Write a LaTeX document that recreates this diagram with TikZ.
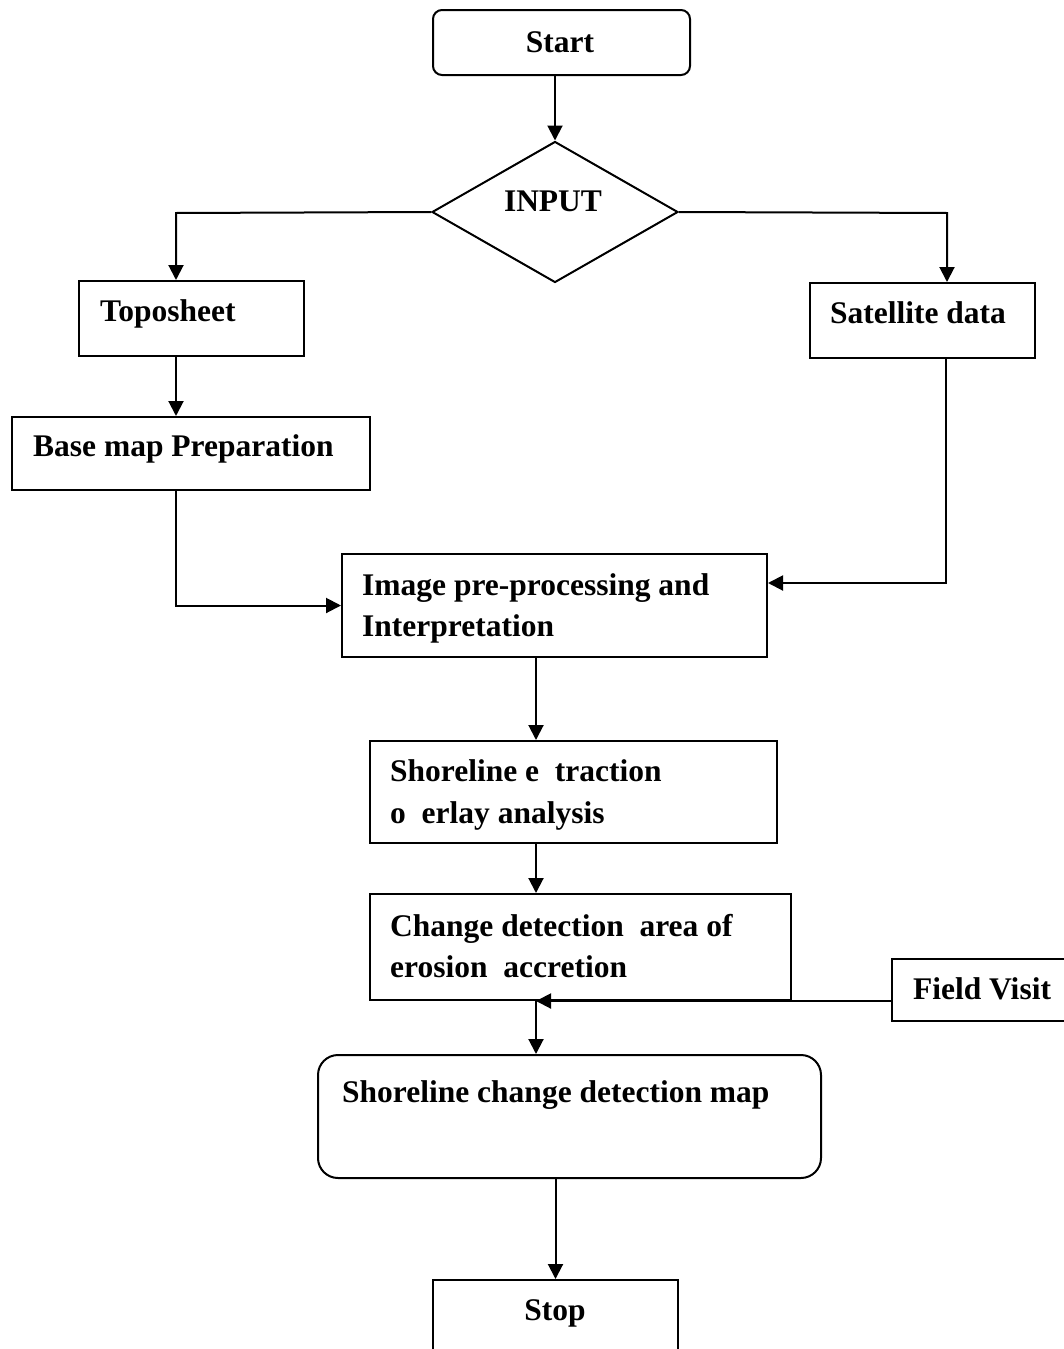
\documentclass[tikz,border=0pt]{standalone}
\usepackage{fontspec}
\setmainfont{Liberation Serif}
\usetikzlibrary{arrows.meta,shapes.geometric}
\begin{document}
\begin{tikzpicture}[x=1pt,y=-1pt,
  box/.style={draw,line width=2pt,inner sep=0pt,anchor=north west},
  txt/.style={font=\fontsize{31.5}{41}\selectfont\bfseries,inner sep=0pt,anchor=base west},
  ctxt/.style={font=\fontsize{31.5}{41}\selectfont\bfseries,inner sep=0pt,anchor=base},
  arr/.style={line width=2pt,-{Triangle[length=15pt,width=15pt]}}]
\useasboundingbox (0,0) rectangle (1064,1349);

% boxes
\node[box,minimum width=257pt,minimum height=65pt,rounded corners=9pt] (start) at (432,9) {};
\node[draw,line width=2pt,diamond,inner sep=0pt,minimum width=246pt,minimum height=141pt] (input) at (555,212) {};
\node[box,minimum width=225pt,minimum height=75pt] (topo) at (78,280) {};
\node[box,minimum width=358pt,minimum height=73pt] (base) at (11,416) {};
\node[box,minimum width=225pt,minimum height=75pt] (sat) at (809,282) {};
\node[box,minimum width=425pt,minimum height=103pt] (img) at (341,553) {};
\node[box,minimum width=407pt,minimum height=102pt] (ext) at (369,740) {};
\node[box,minimum width=421pt,minimum height=106pt] (chg) at (369,893) {};
\node[box,minimum width=503pt,minimum height=123pt,rounded corners=20pt] (map) at (317,1054) {};
\begin{scope}
\clip (0,0) rectangle (1064,1349);
\node[box,minimum width=220pt,minimum height=62pt] (field) at (891,958) {};
\node[box,minimum width=245pt,minimum height=100pt] (stop) at (432,1279) {};
\end{scope}

% texts
\node[ctxt] (tstart) at (560,52) {Start};
\node[ctxt] (tinput) at (553,211) {INPUT};
\node[txt] (ttopo) at (100,321) {Toposheet};
\node[txt] (tbase) at (33,456) {Base map Preparation};
\node[ctxt] (tsat) at (918,323) {Satellite data};
\node[txt] (timg1) at (362,595) {Image pre-processing and};
\node[txt] (timg2) at (362,636) {Interpretation};
\node[txt] (text1) at (390,781) {Shoreline e\ \ traction};
\node[txt] (text2) at (390,823) {o\ \ erlay analysis};
\node[txt] (tchg1) at (390,936) {Change detection\ \ area of};
\node[txt] (tchg2) at (390,977) {erosion\ \ accretion};
\node[ctxt] (tfield) at (982,999) {Field Visit};
\node[txt] (tmap) at (342,1102) {Shoreline change detection map};
\node[ctxt] (tstop) at (555,1320) {Stop};

% helper coordinates
\coordinate (tl) at (176,213);
\coordinate (tr) at (947,213);
\coordinate (sr) at (946,583);
\coordinate (cx) at (536,0);

% connectors
\draw[arr] (input.north |- start.south) -- (input.north);
\draw[arr] (input.west) -- (tl) -- (tl |- topo.north);
\draw[arr] (tl |- topo.south) -- (tl |- base.north);
\draw[arr] (tl |- base.south) -- (tl |- img.west) -- (img.west);
\draw[arr] (input.east) -- (tr) -- (tr |- sat.north);
\draw[arr] (sr |- sat.south) -- (sr) -- (img.east |- sr);
\draw[arr] (cx |- img.south) -- (cx |- ext.north);
\draw[arr] (cx |- ext.south) -- (cx |- chg.north);
\draw[arr] (field.west |- chg.south) -- (cx |- chg.south);
\draw[arr] (cx |- chg.south) -- (cx |- map.north);
\draw[arr] (stop.north |- map.south) -- (stop.north);
\end{tikzpicture}
\end{document}
